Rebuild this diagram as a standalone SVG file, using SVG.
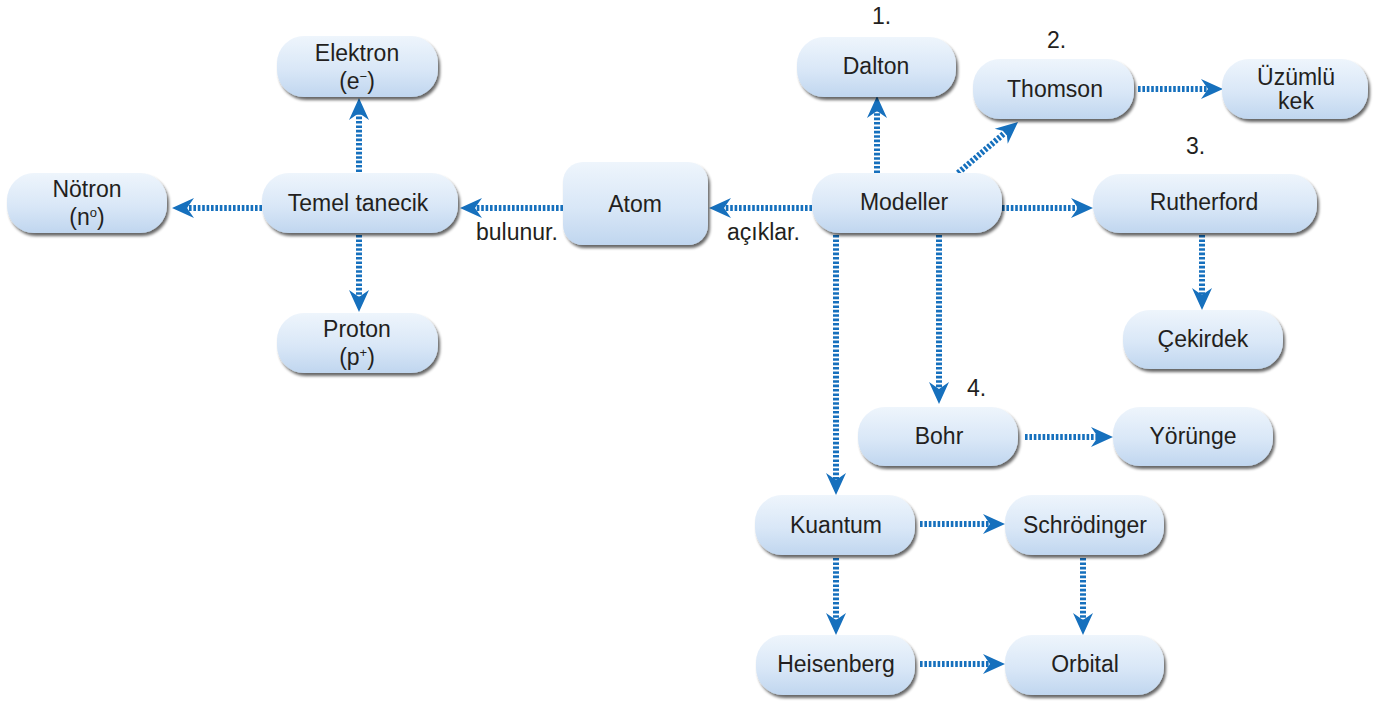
<svg xmlns="http://www.w3.org/2000/svg" xmlns:xlink="http://www.w3.org/1999/xlink" width="1381" height="701" viewBox="0 0 1381 701">
<defs>
<linearGradient id="g" x1="0" y1="0" x2="0" y2="1">
<stop offset="0" stop-color="#eef5fc"/>
<stop offset="0.55" stop-color="#d9e7f7"/>
<stop offset="1" stop-color="#c0d6ef"/>
</linearGradient>
<filter id="sh" x="-10%" y="-20%" width="125%" height="150%">
<feGaussianBlur in="SourceAlpha" stdDeviation="1.6"/>
<feOffset dx="2" dy="3" result="b"/>
<feComponentTransfer><feFuncA type="linear" slope="0.6"/></feComponentTransfer>
<feMerge><feMergeNode/><feMergeNode in="SourceGraphic"/></feMerge>
</filter>
<path id="ah" d="M0,0 L-22,-10 L-15,0 L-22,10 Z" fill="#1670bd"/>
<style>
.n rect{fill:url(#g);filter:url(#sh)}
.t{font-family:"Liberation Sans",Arial,sans-serif;font-size:23px;fill:#231f20;text-anchor:middle}
.l{font-family:"Liberation Sans",Arial,sans-serif;font-size:23px;fill:#231f20}
.c line{stroke:#1670bd;stroke-width:6;stroke-dasharray:2.6 1.8}
</style>
</defs>
<rect width="1381" height="701" fill="#ffffff"/>

<g id="connectors" class="c">
<line x1="359" y1="172" x2="359" y2="112"/><use xlink:href="#ah" href="#ah" transform="translate(359,98) rotate(-90)"/>
<line x1="262" y1="208" x2="186" y2="208"/><use xlink:href="#ah" href="#ah" transform="translate(172,208) rotate(180)"/>
<line x1="359" y1="235" x2="359" y2="298"/><use xlink:href="#ah" href="#ah" transform="translate(359,312) rotate(90)"/>
<line x1="563" y1="208" x2="474" y2="208"/><use xlink:href="#ah" href="#ah" transform="translate(460,208) rotate(180)"/>
<line x1="812" y1="208" x2="723" y2="208"/><use xlink:href="#ah" href="#ah" transform="translate(709,208) rotate(180)"/>
<line x1="877" y1="173" x2="877" y2="110"/><use xlink:href="#ah" href="#ah" transform="translate(877,96) rotate(-90)"/>
<line x1="958" y1="173" x2="1007" y2="131"/><use xlink:href="#ah" href="#ah" transform="translate(1018,122) rotate(-40.4)"/>
<line x1="1002" y1="208" x2="1079" y2="208"/><use xlink:href="#ah" href="#ah" transform="translate(1093,208)"/>
<line x1="1138" y1="89" x2="1209" y2="89"/><use xlink:href="#ah" href="#ah" transform="translate(1223,89)"/>
<line x1="1202" y1="235" x2="1202" y2="296"/><use xlink:href="#ah" href="#ah" transform="translate(1202,310) rotate(90)"/>
<line x1="939" y1="235" x2="939" y2="390"/><use xlink:href="#ah" href="#ah" transform="translate(939,404) rotate(90)"/>
<line x1="1025" y1="437" x2="1099" y2="437"/><use xlink:href="#ah" href="#ah" transform="translate(1113,437)"/>
<line x1="836" y1="235" x2="836" y2="481"/><use xlink:href="#ah" href="#ah" transform="translate(836,495) rotate(90)"/>
<line x1="920" y1="524" x2="991" y2="524"/><use xlink:href="#ah" href="#ah" transform="translate(1005,524)"/>
<line x1="836" y1="558" x2="836" y2="621"/><use xlink:href="#ah" href="#ah" transform="translate(836,635) rotate(90)"/>
<line x1="1083" y1="558" x2="1083" y2="621"/><use xlink:href="#ah" href="#ah" transform="translate(1083,635) rotate(90)"/>
<line x1="920" y1="664" x2="991" y2="664"/><use xlink:href="#ah" href="#ah" transform="translate(1005,664)"/>
</g>

<g id="elektron" class="n"><rect x="277" y="36" width="161" height="61" rx="27"/><text class="t" x="357" y="61">Elektron</text><text class="t" x="357" y="89">(e<tspan font-size="13" dy="-8">−</tspan><tspan dy="8">)</tspan></text></g>
<g id="notron" class="n"><rect x="7" y="173" width="160" height="60" rx="27"/><text class="t" x="87" y="197">Nötron</text><text class="t" x="87" y="225">(n<tspan font-size="13" dy="-8">o</tspan><tspan dy="8">)</tspan></text></g>
<g id="temel" class="n"><rect x="262" y="173" width="196" height="60" rx="27"/><text class="t" x="358" y="211">Temel tanecik</text></g>
<g id="proton" class="n"><rect x="277" y="313" width="161" height="60" rx="27"/><text class="t" x="357" y="337">Proton</text><text class="t" x="357" y="365">(p<tspan font-size="13" dy="-8">+</tspan><tspan dy="8">)</tspan></text></g>
<g id="atom" class="n"><rect x="563" y="162" width="145" height="83" rx="20"/><text class="t" x="635" y="212">Atom</text></g>
<g id="modeller" class="n"><rect x="812" y="173" width="190" height="60" rx="27"/><text class="t" x="904" y="210">Modeller</text></g>
<g id="dalton" class="n"><rect x="797" y="37" width="159" height="60" rx="27"/><text class="t" x="876" y="74">Dalton</text></g>
<g id="thomson" class="n"><rect x="973" y="59" width="161" height="60" rx="27"/><text class="t" x="1055" y="97">Thomson</text></g>
<g id="uzumlu" class="n"><rect x="1222" y="59" width="146" height="60" rx="27"/><text class="t" x="1296" y="85">Üzümlü</text><text class="t" x="1296" y="109">kek</text></g>
<g id="rutherford" class="n"><rect x="1093" y="174" width="224" height="59" rx="27"/><text class="t" x="1204" y="210">Rutherford</text></g>
<g id="cekirdek" class="n"><rect x="1123" y="310" width="160" height="59" rx="27"/><text class="t" x="1203" y="347">Çekirdek</text></g>
<g id="bohr" class="n"><rect x="858" y="407" width="160" height="59" rx="27"/><text class="t" x="939" y="444">Bohr</text></g>
<g id="yorunge" class="n"><rect x="1113" y="407" width="160" height="59" rx="27"/><text class="t" x="1193" y="444">Yörünge</text></g>
<g id="kuantum" class="n"><rect x="755" y="495" width="160" height="60" rx="27"/><text class="t" x="836" y="533">Kuantum</text></g>
<g id="schrodinger" class="n"><rect x="1005" y="495" width="159" height="60" rx="27"/><text class="t" x="1085" y="533">Schrödinger</text></g>
<g id="heisenberg" class="n"><rect x="756" y="635" width="159" height="60" rx="27"/><text class="t" x="836" y="672">Heisenberg</text></g>
<g id="orbital" class="n"><rect x="1005" y="635" width="159" height="60" rx="27"/><text class="t" x="1085" y="672">Orbital</text></g>

<g id="labels">
<text class="l" x="872" y="24">1.</text>
<text class="l" x="1047" y="48">2.</text>
<text class="l" x="1186" y="154">3.</text>
<text class="l" x="967" y="396">4.</text>
<text class="l" x="476" y="240">bulunur.</text>
<text class="l" x="727" y="240">açıklar.</text>
</g>
</svg>
